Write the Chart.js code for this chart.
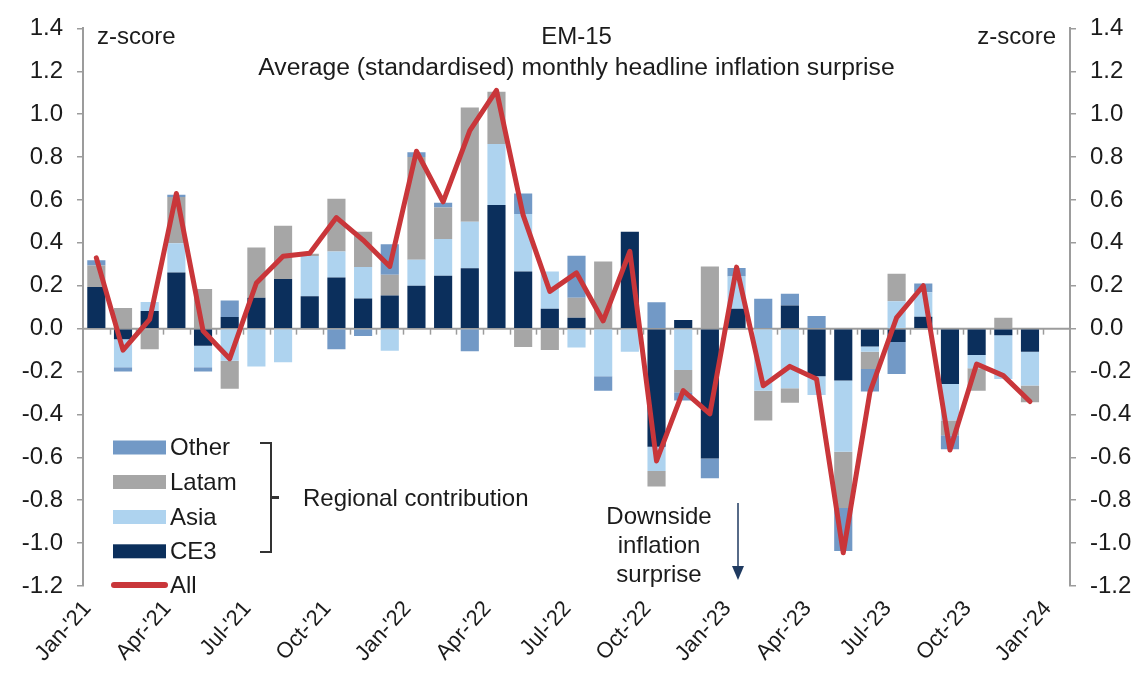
<!DOCTYPE html>
<html><head><meta charset="utf-8">
<script src="https://cdn.jsdelivr.net/npm/chart.js@4.4.1/dist/chart.umd.min.js"></script>
<style>html,body{margin:0;padding:0;background:#fff;}canvas{display:block;}</style>
</head><body>
<canvas id="c" width="1138" height="681"></canvas>
<script>
const months = ["Jan-'21","Feb-'21","Mar-'21","Apr-'21","May-'21","Jun-'21","Jul-'21","Aug-'21","Sep-'21","Oct-'21","Nov-'21","Dec-'21",
"Jan-'22","Feb-'22","Mar-'22","Apr-'22","May-'22","Jun-'22","Jul-'22","Aug-'22","Sep-'22","Oct-'22","Nov-'22","Dec-'22",
"Jan-'23","Feb-'23","Mar-'23","Apr-'23","May-'23","Jun-'23","Jul-'23","Aug-'23","Sep-'23","Oct-'23","Nov-'23","Dec-'23","Jan-'24"];

const ce3   = [0.194,-0.05,0.082,0.262,-0.08,0.054,0.144,0.231,0.151,0.239,0.14,0.154,
               0.2,0.247,0.282,0.576,0.267,0.093,0.051,0,0.452,-0.551,0.04,-0.605,
               0.093,0,0.108,-0.222,-0.242,-0.083,-0.062,0.056,-0.258,-0.123,-0.031,-0.108,null];
const asia  = [0,-0.13,0.042,0.136,-0.10,-0.15,-0.176,-0.157,0.188,0.121,0.147,-0.103,
               0.121,0.171,0.216,0.285,0.267,0.174,-0.088,-0.222,-0.108,-0.113,-0.193,0,
               0.15,-0.289,-0.278,-0.087,-0.332,-0.025,0.128,0.114,-0.17,-0.062,-0.204,-0.157,null];
const latam = [0.10,0.096,-0.096,0.216,0.185,-0.13,0.234,0.249,0.01,0.246,0.165,0.097,
               0.479,0.147,0.533,0.244,-0.085,-0.099,0.093,0.313,0,-0.072,-0.103,0.29,
               0,-0.139,-0.068,0,-0.262,-0.08,0.128,0,-0.069,-0.104,0.051,-0.078,null];
const other = [0.025,-0.02,0,0.01,-0.02,0.077,0,0,0,-0.096,-0.034,0.142,
               0.023,0.022,-0.105,0,0.096,0,0.196,-0.067,0,0.123,-0.039,-0.092,
               0.04,0.139,0.055,0.059,-0.201,-0.105,-0.149,0.04,-0.065,0,0,0,null];
const all   = [0.33,-0.10,0.043,0.63,-0.01,-0.14,0.213,0.338,0.352,0.518,0.413,0.29,
               0.827,0.591,0.923,1.111,0.529,0.174,0.26,0.036,0.36,-0.617,-0.289,-0.397,
               0.287,-0.266,-0.176,-0.235,-1.045,-0.296,0.051,0.2,-0.566,-0.165,-0.219,-0.34,null];

const yMin = -1.2, yMax = 1.4, yStep = 0.2;
const labelEvery = 3;

const FONT = '"Liberation Sans", Arial, sans-serif';
const TEXT = '#1b1b1b';
const AXIS = '#9c9c9c';
const C_CE3 = '#0b2f5c', C_ASIA = '#aed3ef', C_LATAM = '#a6a6a6', C_OTHER = '#7299c6', C_ALL = '#c9363a';

const fmt = v => (Math.abs(v) < 1e-9 ? 0 : v).toFixed(1);

const overlay = {
  id: 'overlay',
  beforeDatasetsDraw(chart) {
    const {ctx, chartArea: a, scales: {x, y}} = chart;
    const y0 = y.getPixelForValue(0);
    const w = x.getPixelForValue(1) - x.getPixelForValue(0);
    ctx.save();
    ctx.strokeStyle = AXIS; ctx.lineWidth = 2;
    ctx.beginPath(); ctx.moveTo(a.left, y0); ctx.lineTo(a.right, y0); ctx.stroke();
    ctx.lineWidth = 1.5;
    for (let i = 1; i < months.length; i++) {
      const px = Math.round(x.getPixelForValue(i) - w / 2) + 0.5;
      ctx.beginPath(); ctx.moveTo(px, y0); ctx.lineTo(px, y0 + 6); ctx.stroke();
    }
    ctx.restore();
  },
  afterDraw(chart) {
    const {ctx, chartArea: a} = chart;
    const cx = (a.left + a.right) / 2;
    ctx.save();
    ctx.fillStyle = TEXT;
    ctx.font = '24px ' + FONT;
    ctx.textBaseline = 'middle';
    ctx.textAlign = 'center';
    ctx.fillText('EM-15', cx, 37);
    ctx.font = '24.7px ' + FONT;
    ctx.fillText('Average (standardised) monthly headline inflation surprise', cx, 68);
    ctx.font = '24px ' + FONT;
    ctx.textAlign = 'left';
    ctx.fillText('z-score', 97, 37);
    ctx.textAlign = 'right';
    ctx.fillText('z-score', 1056, 37);

    // legend
    const items = [['Other', C_OTHER, 447.5], ['Latam', C_LATAM, 482], ['Asia', C_ASIA, 517], ['CE3', C_CE3, 551.3]];
    ctx.textAlign = 'left';
    items.forEach(([t, c, yy]) => {
      ctx.fillStyle = c; ctx.fillRect(113, yy - 7, 53, 14);
      ctx.fillStyle = TEXT; ctx.fillText(t, 170, yy + 1);
    });
    ctx.strokeStyle = C_ALL; ctx.lineWidth = 6; ctx.lineCap = 'round';
    ctx.beginPath(); ctx.moveTo(114, 585); ctx.lineTo(165, 585); ctx.stroke();
    ctx.fillStyle = TEXT; ctx.fillText('All', 170, 586);

    // bracket
    ctx.strokeStyle = '#333'; ctx.lineWidth = 2; ctx.lineCap = 'butt';
    ctx.beginPath();
    ctx.moveTo(260, 443); ctx.lineTo(271, 443); ctx.lineTo(271, 552); ctx.lineTo(260, 552);
    ctx.stroke();
    ctx.lineWidth = 3;
    ctx.beginPath(); ctx.moveTo(271, 497.5); ctx.lineTo(279, 497.5); ctx.stroke();
    ctx.fillText('Regional contribution', 303, 499);

    // downside annotation
    ctx.textAlign = 'center';
    ctx.fillText('Downside', 659, 517);
    ctx.fillText('inflation', 659, 546);
    ctx.fillText('surprise', 659, 575);
    ctx.strokeStyle = '#1f3a60'; ctx.lineWidth = 1.5;
    ctx.beginPath(); ctx.moveTo(738, 503); ctx.lineTo(738, 572); ctx.stroke();
    ctx.fillStyle = '#1f3a60';
    ctx.beginPath(); ctx.moveTo(732, 566); ctx.lineTo(744, 566); ctx.lineTo(738, 580); ctx.closePath(); ctx.fill();
    ctx.restore();
  }
};

const yCommon = {
  min: yMin, max: yMax,
  ticks: { stepSize: yStep, callback: fmt, font: { family: FONT, size: 24 }, color: TEXT, padding: 14 },
  grid: { drawOnChartArea: false, drawTicks: true, tickLength: 6, color: AXIS, lineWidth: 1.5 },
  border: { display: true, color: AXIS, width: 2 }
};

new Chart(document.getElementById('c'), {
  data: {
    labels: months,
    datasets: [
      { type: 'bar', label: 'CE3', data: ce3, backgroundColor: C_CE3, order: 1, stack: 'reg' },
      { type: 'bar', label: 'Asia', data: asia, backgroundColor: C_ASIA, order: 1, stack: 'reg' },
      { type: 'bar', label: 'Latam', data: latam, backgroundColor: C_LATAM, order: 1, stack: 'reg' },
      { type: 'bar', label: 'Other', data: other, backgroundColor: C_OTHER, order: 1, stack: 'reg' },
      { type: 'line', label: 'All', data: all, borderColor: C_ALL, borderWidth: 5, pointRadius: 0, tension: 0, order: 0, stack: 'all', borderJoinStyle: 'round', borderCapStyle: 'round' }
    ]
  },
  options: {
    responsive: false, animation: false, devicePixelRatio: 1,
    datasets: { bar: { barPercentage: 0.68, categoryPercentage: 1 } },
    layout: { padding: { top: 22, left: 0, right: 0, bottom: 0 } },
    plugins: { legend: { display: false }, tooltip: { enabled: false } },
    scales: {
      x: {
        stacked: true, offset: true,
        grid: { display: false }, border: { display: false },
        ticks: { autoSkip: false, maxRotation: 48, minRotation: 48, font: { family: FONT, size: 22 }, color: TEXT, padding: 2, labelOffset: -9,
                 callback: (v, i) => (i % labelEvery === 0 ? months[i] : '') },
        afterFit(s) { s.height = 95; }
      },
      y: Object.assign({}, yCommon, { position: 'left', stacked: true, afterFit(s) { s.width = 83; } }),
      y2: Object.assign({}, yCommon, { position: 'right', afterFit(s) { s.width = 68; } })
    }
  },
  plugins: [overlay]
});
</script>
</body></html>
